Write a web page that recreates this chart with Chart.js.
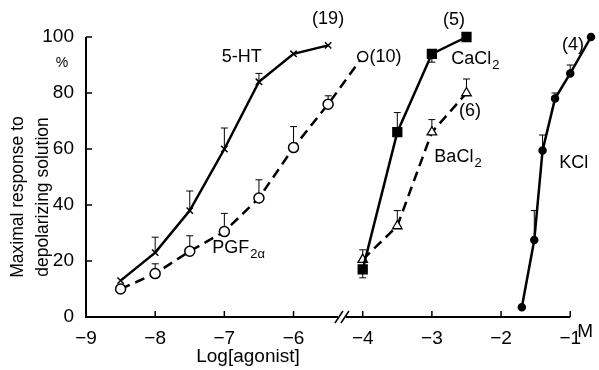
<!DOCTYPE html>
<html>
<head>
<meta charset="utf-8">
<script src="https://cdn.jsdelivr.net/npm/chart.js@4.4.1/dist/chart.umd.min.js"></script>
<style>
  html, body { margin: 0; padding: 0; background: #fff; overflow: hidden; }
  #wrap { width: 599px; height: 370px; position: relative; }
</style>
</head>
<body>
<div id="wrap"><canvas id="c"></canvas></div>
<script>
// log concentrations (M)
const logAgonist = [-8.5, -8, -7.5, -7, -6.5, -6, -5.5, -5];
const logSalt = [-4, -3.5, -3, -2.5];
const logKcl = [-1.7, -1.52, -1.4, -1.22, -1, -0.7];

// % of maximal response, with the end of each error bar (null = none)
const ht5 = [13, 23, 38, 60, 84, 94, 97];
const ht5Err = [null, 28.5, 45, 67.5, 87, null, null];
const pgf = [10, 15.5, 23.5, 30.5, 42.5, 60.5, 76, 93];
const pgfErr = [null, 19, 29, 37, 49, 68, 79, 94.5];
const cacl = [17, 66, 94, 100];
const caclErr = [14, 73, 91, null];
const bacl = [20.5, 32.5, 66, 80];
const baclErr = [24, 38, 70.5, 85];
const kcl = [3.5, 27.5, 59.5, 78, 87, 100];
const kclErr = [null, 38, 65, 80, 90, null];

const xTickLabels = ['\u22129', '\u22128', '\u22127', '\u22126', '\u22124', '\u22123', '\u22122', '\u22121'];
const yTicks = [0, 20, 40, 60, 80, 100];

// axis is broken between -6 and -4: everything right of the break moves one unit left
const brk = x => (x > -4.6 ? x - 1 : x);
const pts = (xs, ys) => ys.map((y, i) => ({ x: brk(xs[i]), y }));
const xTickVals = [-9, -8, -7, -6, -4, -3, -2, -1].map(brk);

const SANS = '"Liberation Sans", Arial, sans-serif';

const series = [
  { xs: logAgonist, ys: ht5, err: ht5Err },
  { xs: logAgonist, ys: pgf, err: pgfErr },
  { xs: logSalt, ys: cacl, err: caclErr },
  { xs: logSalt, ys: bacl, err: baclErr },
  { xs: logKcl, ys: kcl, err: kclErr }
];

// labels, placed in data coordinates (x in log M, y in %)
const notes = [
  { t: '(19)', x: -5.5, y: 106.5 },
  { t: '(10)', x: -4.67, y: 93 },
  { t: '(5)', x: -2.68, y: 106 },
  { t: 'CaCl', sub: '2', x: -2.38, y: 92 },
  { t: '(6)', x: -2.45, y: 73.5 },
  { t: 'BaCl', sub: '2', x: -2.63, y: 57 },
  { t: 'KCl', x: -0.95, y: 55 },
  { t: '(4)', x: -0.96, y: 97 },
  { t: '5-HT', x: -6.75, y: 93 },
  { t: 'PGF', sub: '2\u03b1', x: -6.8, y: 24.5 }
];

const deco = {
  id: 'deco',
  beforeDatasetsDraw(chart) {
    const { ctx, scales: { x, y } } = chart;
    ctx.save();
    ctx.strokeStyle = '#000';
    ctx.lineWidth = 1;
    series.forEach(s => {
      s.err.forEach((e, i) => {
        if (e == null) return;
        const px = x.getPixelForValue(brk(s.xs[i]));
        const p0 = y.getPixelForValue(s.ys[i]);
        const p1 = y.getPixelForValue(e);
        ctx.beginPath();
        ctx.moveTo(px, p0); ctx.lineTo(px, p1);
        ctx.moveTo(px - 3.5, p1); ctx.lineTo(px + 3.5, p1);
        ctx.stroke();
      });
    });
    ctx.restore();
  },
  afterDraw(chart) {
    const { ctx, chartArea: a, scales: { x, y } } = chart;
    ctx.save();
    ctx.strokeStyle = '#000';
    ctx.fillStyle = '#000';
    ctx.lineWidth = 2;
    const xEnd = x.getPixelForValue(brk(-1));
    ctx.beginPath();
    ctx.moveTo(a.left, a.top); ctx.lineTo(a.left, a.bottom); ctx.lineTo(xEnd, a.bottom);
    ctx.stroke();
    ctx.lineWidth = 1.5;
    ctx.beginPath();
    xTickVals.forEach(v => {
      const px = x.getPixelForValue(v);
      ctx.moveTo(px, a.bottom); ctx.lineTo(px, a.bottom - 6);
    });
    yTicks.forEach(v => {
      const py = y.getPixelForValue(v);
      ctx.moveTo(a.left, py); ctx.lineTo(a.left + 6, py);
    });
    ctx.stroke();
    // break marks
    const bx = x.getPixelForValue(-5.3);
    ctx.fillStyle = '#fff';
    ctx.fillRect(bx - 4, a.bottom - 2, 8, 4);
    ctx.beginPath();
    [-3, 3].forEach(d => {
      ctx.moveTo(bx + d - 4, a.bottom + 6); ctx.lineTo(bx + d + 4, a.bottom - 6);
    });
    ctx.stroke();

    ctx.fillStyle = '#000';
    ctx.textBaseline = 'middle';
    ctx.textAlign = 'left';
    notes.forEach(n => {
      const px = x.getPixelForValue(brk(n.x));
      const py = y.getPixelForValue(n.y);
      ctx.font = '18px ' + SANS;
      const w = ctx.measureText(n.t).width;
      let sw = 0;
      if (n.sub) { ctx.font = '13px ' + SANS; sw = ctx.measureText(n.sub).width; }
      const left = px - (w + sw) / 2;
      ctx.font = '18px ' + SANS;
      ctx.fillText(n.t, left, py);
      if (n.sub) { ctx.font = '13px ' + SANS; ctx.fillText(n.sub, left + w + 1, py + 6); }
    });
    ctx.font = '14px ' + SANS;
    ctx.textAlign = 'center';
    ctx.fillText('%', a.left - 24, y.getPixelForValue(90.5));
    ctx.font = '19px ' + SANS;
    ctx.textAlign = 'left';
    ctx.fillText('M', xEnd + 7, a.bottom + 15);
    ctx.textAlign = 'center';
    ctx.fillText('Log[agonist]', 248, a.bottom + 40);
    // y-axis title, two lines
    ctx.translate(18, 197);
    ctx.rotate(-Math.PI / 2);
    ctx.font = '17.5px ' + SANS;
    ctx.fillText('Maximal response to', 0, 0);
    ctx.fillText('depolarizing solution', 0, 25);
    ctx.restore();
  }
};

new Chart(document.getElementById('c'), {
  type: 'line',
  data: {
    datasets: [
      { label: '5-HT', data: pts(logAgonist, ht5), borderColor: '#000', borderWidth: 2.5,
        pointStyle: 'crossRot', pointRadius: 4.5, pointBorderWidth: 1.5, pointBorderColor: '#000' },
      { label: 'PGF2\u03b1', data: pts(logAgonist, pgf), borderColor: '#000', borderWidth: 2.5, borderDash: [10, 6],
        pointStyle: 'circle', pointRadius: 5, pointBorderWidth: 1.5, pointBackgroundColor: '#fff', pointBorderColor: '#000' },
      { label: 'CaCl2', data: pts(logSalt, cacl), borderColor: '#000', borderWidth: 2.5,
        pointStyle: 'rect', pointRadius: 5.5, pointBackgroundColor: '#000', pointBorderColor: '#000' },
      { label: 'BaCl2', data: pts(logSalt, bacl), borderColor: '#000', borderWidth: 2.5, borderDash: [10, 6],
        pointStyle: 'triangle', pointRadius: 5.5, pointBorderWidth: 1.3, pointBackgroundColor: '#fff', pointBorderColor: '#000' },
      { label: 'KCl', data: pts(logKcl, kcl), borderColor: '#000', borderWidth: 2.5,
        pointStyle: 'circle', pointRadius: 3, pointBackgroundColor: '#000', pointBorderColor: '#000' }
    ]
  },
  options: {
    responsive: true,
    maintainAspectRatio: false,
    animation: false,
    clip: false,
    layout: { padding: { top: 37, right: 0, left: 0, bottom: 0 } },
    scales: {
      x: {
        type: 'linear', min: -9, max: -1.7,
        grid: { display: false }, border: { display: false },
        afterBuildTicks: s => { s.ticks = xTickVals.map(v => ({ value: v })); },
        afterFit: s => { s.height = 53; },
        ticks: {
          autoSkip: false, maxRotation: 0, padding: 2, color: '#000',
          font: { family: SANS, size: 19 },
          callback: (v, i) => xTickLabels[i]
        }
      },
      y: {
        min: 0, max: 100,
        grid: { display: false }, border: { display: false },
        afterBuildTicks: s => { s.ticks = yTicks.map(v => ({ value: v })); },
        afterFit: s => { s.width = 86; },
        ticks: { padding: 4, color: '#000', font: { family: SANS, size: 19 } }
      }
    },
    plugins: { legend: { display: false }, tooltip: { enabled: false } }
  },
  plugins: [deco]
});
</script>
</body>
</html>
